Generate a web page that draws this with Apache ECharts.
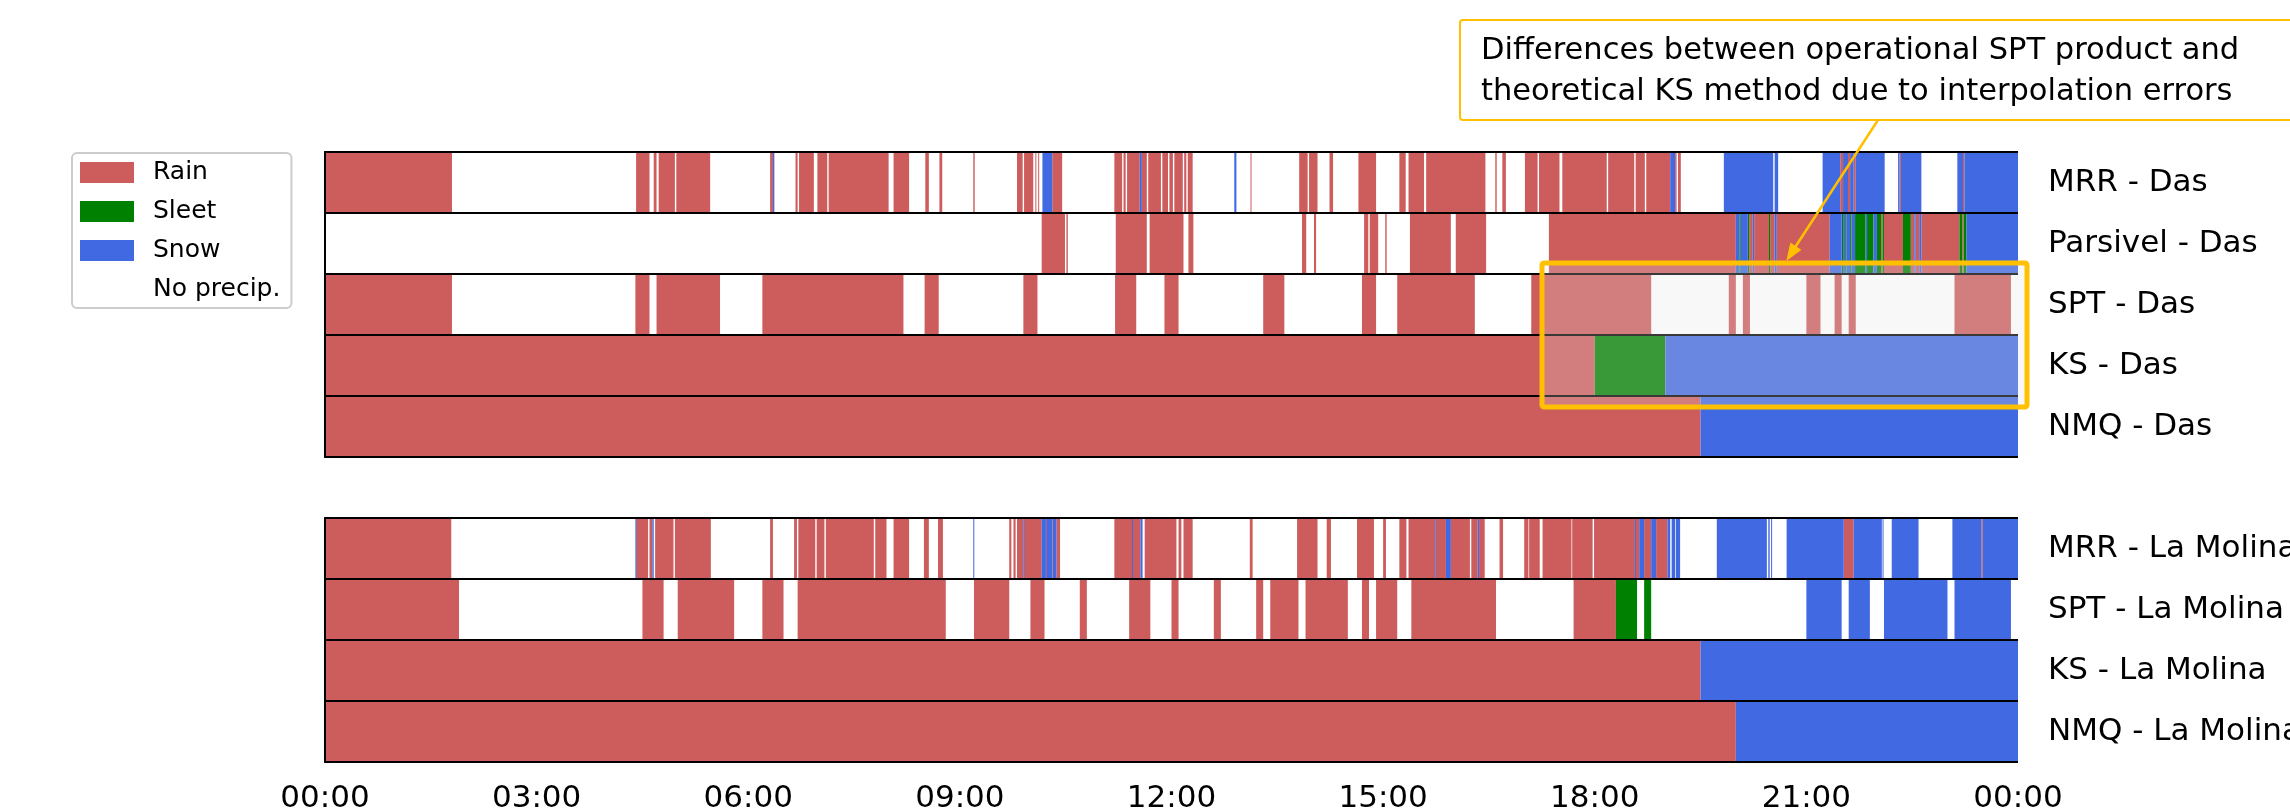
<!DOCTYPE html>
<html>
<head>
<meta charset="utf-8">
<script src="https://cdn.jsdelivr.net/npm/echarts@6/dist/echarts.min.js"></script>
<style>
  html, body { margin: 0; padding: 0; background: #fff; }
  #chart { width: 2290px; height: 810px; }
</style>
</head>
<body>
<div id="chart"></div>
<script>
const R = 'Rain', SL = 'Sleet', SN = 'Snow';
const typeNames = [R, SL, SN, 'No precip.'];
const typeColors = { 'Rain': '#cd5c5c', 'Sleet': '#008000', 'Snow': '#4169e1', 'No precip.': '#ffffff' };

// segments: [start hour, end hour, type]
const mrrDas = [
  [0, 1.80, R], [4.41, 4.60, R], [4.66, 4.70, R], [4.73, 4.96, R], [4.98, 5.46, R],
  [6.31, 6.35, R], [6.35, 6.37, SN], [6.67, 6.70, R], [6.72, 6.93, R], [6.98, 7.12, R], [7.14, 7.99, R],
  [8.06, 8.28, R], [8.51, 8.56, R], [8.71, 8.75, R], [9.19, 9.21, R], [9.81, 9.89, R], [9.91, 10.04, R],
  [10.07, 10.08, R], [10.11, 10.12, R], [10.17, 10.31, SN], [10.31, 10.45, R],
  [11.19, 11.30, R], [11.32, 11.35, R], [11.37, 11.55, R], [11.55, 11.58, SN],
  [11.58, 11.65, R], [11.67, 11.85, R], [11.87, 11.95, R], [11.97, 12.02, R], [12.04, 12.16, R], [12.18, 12.21, R], [12.23, 12.30, R],
  [12.89, 12.92, SN], [13.12, 13.13, R], [13.81, 13.93, R], [13.95, 14.07, R], [14.24, 14.29, R], [14.65, 14.90, R],
  [15.23, 15.32, R], [15.36, 15.58, R], [15.61, 16.45, R], [16.59, 16.61, R], [16.69, 16.74, R],
  [17.01, 17.19, R], [17.21, 17.50, R], [17.54, 18.17, R], [18.19, 18.56, R], [18.58, 18.71, R], [18.73, 19.07, R],
  [19.07, 19.14, SN], [19.14, 19.16, R], [19.18, 19.22, R],
  [19.83, 20.53, SN], [20.55, 20.60, SN],
  [21.23, 21.48, SN], [21.48, 21.52, R], [21.52, 21.59, SN], [21.59, 21.62, R], [21.62, 21.67, SN], [21.67, 21.70, R], [21.70, 22.11, SN],
  [22.30, 22.32, SN], [22.32, 22.34, R], [22.34, 22.63, SN],
  [23.14, 23.22, SN], [23.22, 23.24, R], [23.24, 24, SN]
];
const parsivelDas = [
  [10.16, 10.49, R], [10.51, 10.53, R], [11.21, 11.65, R], [11.69, 12.17, R], [12.24, 12.31, R],
  [13.85, 13.91, R], [14.02, 14.05, R], [14.73, 14.79, R], [14.81, 14.93, R], [15.03, 15.05, R],
  [15.38, 15.96, R], [16.03, 16.46, R], [17.35, 20.00, R],
  [20.00, 20.05, SN], [20.05, 20.07, SL], [20.07, 20.17, SN], [20.17, 20.19, SL], [20.19, 20.24, R], [20.24, 20.26, SN],
  [20.26, 20.47, R], [20.47, 20.49, SL], [20.49, 20.55, R], [20.55, 20.58, SN], [20.58, 21.33, R],
  [21.33, 21.50, SN], [21.50, 21.52, SL], [21.52, 21.55, SN], [21.55, 21.57, SL], [21.57, 21.62, SN], [21.62, 21.64, SL], [21.64, 21.69, SN],
  [21.69, 21.84, SL], [21.84, 21.86, SN], [21.86, 21.95, SL], [21.95, 22.00, SN], [22.00, 22.06, SL], [22.06, 22.08, R], [22.08, 22.10, SL],
  [22.10, 22.37, R], [22.37, 22.48, SL], [22.48, 22.53, R], [22.53, 22.55, SN], [22.55, 22.60, R], [22.60, 22.63, SN],
  [22.63, 23.17, R], [23.17, 23.21, SL], [23.21, 23.23, R], [23.23, 23.27, SL], [23.27, 24, SN]
];
const sptDas = [
  [0, 1.8, R], [4.4, 4.6, R], [4.7, 5.6, R], [6.2, 8.2, R], [8.5, 8.7, R], [9.9, 10.1, R],
  [11.2, 11.5, R], [11.9, 12.1, R], [13.3, 13.6, R], [14.7, 14.9, R], [15.2, 16.3, R], [17.1, 18.8, R],
  [19.9, 20.0, R], [20.1, 20.2, R], [21.0, 21.2, R], [21.4, 21.5, R], [21.6, 21.7, R], [23.1, 23.9, R]
];
const ksDas = [[0, 18, R], [18, 19, SL], [19, 24, SN]];
const nmqDas = [[0, 19.5, R], [19.5, 24, SN]];

const mrrMolina = [
  [0, 1.79, R], [4.40, 4.41, SN], [4.41, 4.58, R], [4.60, 4.64, R], [4.64, 4.66, SN], [4.68, 4.94, R], [4.96, 5.47, R],
  [6.31, 6.35, R], [6.65, 6.69, R], [6.71, 6.95, R], [6.97, 7.08, R], [7.10, 7.78, R], [7.80, 7.96, R],
  [8.06, 8.28, R], [8.49, 8.56, R], [8.69, 8.76, R], [9.19, 9.20, SN], [9.70, 9.73, R],
  [9.76, 9.79, R], [9.81, 9.90, R], [9.90, 9.91, SN], [9.91, 10.16, R],
  [10.16, 10.22, SN], [10.22, 10.23, R], [10.23, 10.31, SN], [10.31, 10.32, R], [10.32, 10.37, SN], [10.37, 10.42, R],
  [11.19, 11.44, R], [11.44, 11.45, SN], [11.45, 11.56, R], [11.56, 11.59, SN], [11.62, 12.07, R], [12.10, 12.14, R], [12.17, 12.30, R],
  [13.11, 13.15, R], [13.78, 14.07, R], [14.20, 14.26, R], [14.63, 14.87, R], [15.00, 15.04, R], [15.23, 15.33, R],
  [15.36, 15.74, R], [15.74, 15.75, SN], [15.75, 15.89, R], [15.89, 15.96, SN], [15.96, 16.23, R],
  [16.25, 16.34, R], [16.34, 16.36, SN], [16.36, 16.44, R], [16.65, 16.70, R],
  [17.00, 17.06, R], [17.07, 17.22, R], [17.26, 17.67, R], [17.68, 17.97, R], [17.99, 18.57, R],
  [18.57, 18.58, SN], [18.58, 18.63, R], [18.63, 18.70, SN], [18.70, 18.80, R], [18.80, 18.87, SN], [18.87, 19.03, R],
  [19.03, 19.07, SN], [19.09, 19.14, SN], [19.15, 19.21, SN],
  [19.73, 20.44, SN], [20.46, 20.48, SN], [20.50, 20.51, SN],
  [20.72, 21.53, SN], [21.53, 21.67, R], [21.67, 22.07, SN], [22.08, 22.09, SN], [22.21, 22.59, SN],
  [23.07, 23.48, SN], [23.48, 23.50, R], [23.50, 24, SN]
];
const sptMolina = [
  [0, 1.9, R], [4.5, 4.8, R], [5.0, 5.8, R], [6.2, 6.5, R], [6.7, 8.8, R], [9.2, 9.7, R], [10.0, 10.2, R],
  [10.7, 10.8, R], [11.4, 11.7, R], [12.0, 12.1, R], [12.6, 12.7, R], [13.2, 13.3, R], [13.4, 13.8, R],
  [13.9, 14.5, R], [14.7, 14.8, R], [14.9, 15.2, R], [15.4, 16.6, R], [17.7, 18.3, R],
  [18.3, 18.6, SL], [18.7, 18.8, SL],
  [21.0, 21.5, SN], [21.6, 21.9, SN], [22.1, 23.0, SN], [23.1, 23.9, SN]
];
const ksMolina = [[0, 19.5, R], [19.5, 24, SN]];
const nmqMolina = [[0, 20.0, R], [20.0, 24, SN]];

const topRows = ['MRR - Das', 'Parsivel - Das', 'SPT - Das', 'KS - Das', 'NMQ - Das'];
const topData = [mrrDas, parsivelDas, sptDas, ksDas, nmqDas];
const bottomRows = ['MRR - La Molina', 'SPT - La Molina', 'KS - La Molina', 'NMQ - La Molina'];
const bottomData = [mrrMolina, sptMolina, ksMolina, nmqMolina];
const hourTicks = ['00:00', '03:00', '06:00', '09:00', '12:00', '15:00', '18:00', '21:00', '00:00'];

const FONT = 'DejaVu Sans';
const chart = echarts.init(document.getElementById('chart'));

function renderSeg(params, api) {
  const row = api.value(0);
  const a = api.coord([api.value(1), row]);
  const b = api.coord([api.value(2), row]);
  const h = api.size([0, 1])[1];
  return {
    type: 'rect',
    shape: { x: a[0], y: a[1] - h / 2, width: Math.max(b[0] - a[0], 1), height: h },
    style: { fill: api.visual('color') }
  };
}

function panelSeries(rows, gridIdx) {
  return typeNames.map(t => ({
    name: t,
    type: 'custom',
    xAxisIndex: gridIdx * 2,
    yAxisIndex: gridIdx * 2,
    z: 1,
    itemStyle: { color: typeColors[t] },
    encode: { x: [1, 2], y: 0 },
    renderItem: renderSeg,
    data: rows.flatMap((segs, i) => segs.filter(s => s[2] === t).map(s => [i, s[0], s[1]]))
  }));
}

const black = { color: '#000', width: 2 };
function xAxes(gridIdx, labels) {
  return [{
    type: 'value', gridIndex: gridIdx, min: 0, max: 24, interval: 3, position: 'bottom', z: 5,
    axisLine: { lineStyle: black }, axisTick: { length: 9, lineStyle: black },
    splitLine: { show: false },
    axisLabel: { show: labels, fontSize: 31, color: '#000', fontFamily: FONT, margin: 21,
      formatter: v => hourTicks[v / 3] },
  }, {
    type: 'value', gridIndex: gridIdx, min: 0, max: 24, position: 'top', z: 5,
    axisLine: { lineStyle: black }, axisTick: { show: false }, axisLabel: { show: false }, splitLine: { show: false }
  }];
}
function yAxes(gridIdx, names) {
  return [{
    type: 'category', gridIndex: gridIdx, data: names, inverse: true, position: 'left', z: 5,
    axisLine: { lineStyle: black }, axisTick: { length: 9, lineStyle: black, interval: 0 },
    axisLabel: { show: false },
    splitLine: { show: true, interval: 0, lineStyle: black }
  }, {
    type: 'category', gridIndex: gridIdx, data: names, inverse: true, position: 'right', z: 5,
    axisLine: { lineStyle: black }, axisTick: { show: false },
    axisLabel: { fontSize: 31, color: '#000', fontFamily: FONT, margin: 30, interval: 0, padding: [12, 0, 0, 0] }
  }];
}

const gold = '#ffc000';
chart.setOption({
  backgroundColor: '#fff',
  animation: false,
  textStyle: { fontFamily: FONT },
  grid: [
    { left: 325, top: 152, width: 1693, height: 305, outerBoundsMode: 'none', containLabel: false },
    { left: 325, top: 518, width: 1693, height: 244, outerBoundsMode: 'none', containLabel: false }
  ],
  xAxis: [...xAxes(0, false), ...xAxes(1, true)],
  yAxis: [...yAxes(0, topRows), ...yAxes(1, bottomRows)],
  legend: {
    data: typeNames, orient: 'vertical', left: 72, top: 153, selectedMode: false,
    icon: 'rect', itemWidth: 54, itemHeight: 21, itemGap: 14,
    padding: [7, 11, 6, 8], borderColor: '#cccccc', borderWidth: 2, borderRadius: 5,
    textStyle: { fontSize: 25, color: '#000', fontFamily: FONT, lineHeight: 25, padding: [0, 0, 0, 14] }
  },
  series: [...panelSeries(topData, 0), ...panelSeries(bottomData, 1)],
  graphic: [
    { type: 'rect', z: 100, shape: { x: 1542, y: 263, width: 485, height: 144, r: 2 },
      style: { fill: 'rgba(228,228,228,0.25)', stroke: gold, lineWidth: 5 } },
    { type: 'line', z: 100, shape: { x1: 1878, y1: 120, x2: 1792, y2: 252 },
      style: { stroke: gold, lineWidth: 2.5 } },
    { type: 'polygon', z: 100, shape: { points: [[1787, 260], [1800.7, 249.9], [1790.7, 243.3]] },
      style: { fill: gold, stroke: gold, lineWidth: 1 } },
    { type: 'rect', z: 100, shape: { x: 1460, y: 20, width: 840, height: 100, r: 3 },
      style: { fill: '#fff', stroke: gold, lineWidth: 2 } },
    { type: 'text', z: 101, x: 1481, y: 30,
      style: { text: 'Differences between operational SPT product and\ntheoretical KS method due to interpolation errors',
        fontSize: 30.5, lineHeight: 41.6, fill: '#000', fontFamily: FONT, verticalAlign: 'top' } }
  ]
});
</script>
</body>
</html>
